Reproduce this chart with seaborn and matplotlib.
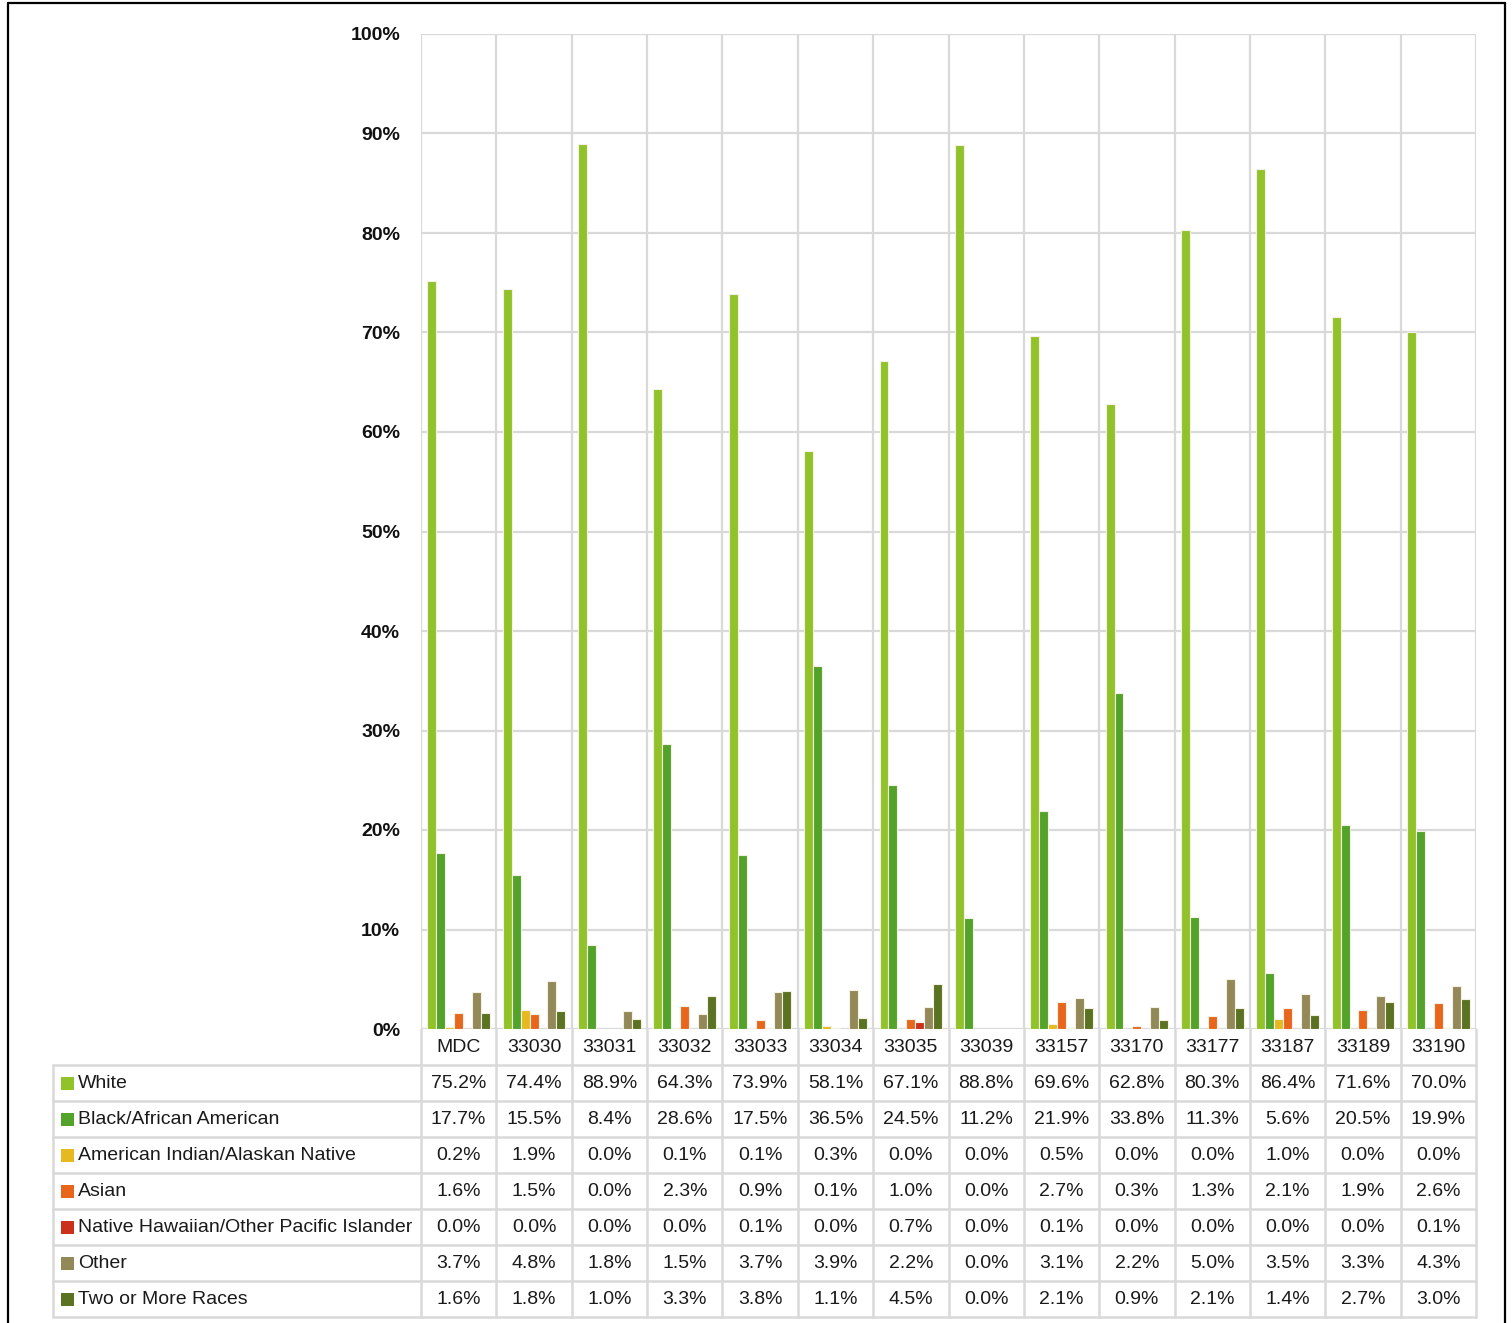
import numpy as np
import pandas as pd
import matplotlib
matplotlib.use("Agg")
import matplotlib.pyplot as plt
from matplotlib import font_manager
from matplotlib.patches import Rectangle
from matplotlib.lines import Line2D
import seaborn as sns

categories = ["MDC", "33030", "33031", "33032", "33033", "33034", "33035",
              "33039", "33157", "33170", "33177", "33187", "33189", "33190"]
races = ["White", "Black/African American", "American Indian/Alaskan Native",
         "Asian", "Native Hawaiian/Other Pacific Islander", "Other", "Two or More Races"]
white = [75.2, 74.4, 88.9, 64.3, 73.9, 58.1, 67.1, 88.8, 69.6, 62.8, 80.3, 86.4, 71.6, 70.0]
black = [17.7, 15.5, 8.4, 28.6, 17.5, 36.5, 24.5, 11.2, 21.9, 33.8, 11.3, 5.6, 20.5, 19.9]
am_indian = [0.2, 1.9, 0.0, 0.1, 0.1, 0.3, 0.0, 0.0, 0.5, 0.0, 0.0, 1.0, 0.0, 0.0]
asian = [1.6, 1.5, 0.0, 2.3, 0.9, 0.1, 1.0, 0.0, 2.7, 0.3, 1.3, 2.1, 1.9, 2.6]
nhpi = [0.0, 0.0, 0.0, 0.0, 0.1, 0.0, 0.7, 0.0, 0.1, 0.0, 0.0, 0.0, 0.0, 0.1]
other = [3.7, 4.8, 1.8, 1.5, 3.7, 3.9, 2.2, 0.0, 3.1, 2.2, 5.0, 3.5, 3.3, 4.3]
two_more = [1.6, 1.8, 1.0, 3.3, 3.8, 1.1, 4.5, 0.0, 2.1, 0.9, 2.1, 1.4, 2.7, 3.0]
series = [white, black, am_indian, asian, nhpi, other, two_more]
colors = ["#92C22A", "#53A22A", "#E7B921", "#E8661C", "#C9311D", "#938858", "#5A7221"]
yticks = [0, 10, 20, 30, 40, 50, 60, 70, 80, 90, 100]

sns.set_style("white")

def pick_font(names):
    for n in names:
        try:
            font_manager.findfont(font_manager.FontProperties(family=n), fallback_to_default=False)
            return n
        except Exception:
            pass
    return "DejaVu Sans"

FONT = pick_font(["Liberation Sans Narrow", "Liberation Sans", "DejaVu Sans"])
plt.rcParams["font.family"] = [FONT, "DejaVu Sans"]

df = pd.DataFrame({
    "zip": np.repeat(categories, len(races)).tolist(),
    "race": races * len(categories),
    "pct": [series[r][c] for c in range(len(categories)) for r in range(len(races))],
})

W, H = 1512, 1323
fig = plt.figure(figsize=(W / 100, H / 100), dpi=100)

x0, x1 = 421, 1476
ytop, ybot = 34, 1029
ax = fig.add_axes([x0 / W, 1 - ybot / H, (x1 - x0) / W, (ybot - ytop) / H])
sns.barplot(data=df, x="zip", y="pct", hue="race", hue_order=races, order=categories,
            palette=colors, width=0.83, saturation=1, ax=ax, legend=False,
            edgecolor="#F4F1E4", linewidth=0.8)
ax.set_xlim(-0.5, len(categories) - 0.5)
ax.set_ylim(0, 100)
ax.set_yticks(yticks)
ax.set_yticklabels([f"{t}%" for t in yticks], fontsize=14, fontweight="bold", color="#111111")
ax.tick_params(axis="y", length=0, pad=15)
ax.set_xticks([])
ax.set_xlabel("")
ax.set_ylabel("")
grid_c = "#D9D9D9"
for t in yticks:
    ax.axhline(t, color=grid_c, lw=1.6, zorder=0)
for i in range(len(categories) + 1):
    ax.axvline(i - 0.5, color=grid_c, lw=1.6, zorder=0)
for s in ax.spines.values():
    s.set_visible(False)

# data table
tb_bot = 1317
tax = fig.add_axes([53 / W, 1 - tb_bot / H, (x1 - 53) / W, (tb_bot - ybot) / H])
unit = (x1 - x0) / len(categories)
xleft = -0.5 - (x0 - 53) / unit
tax.set_xlim(xleft, len(categories) - 0.5)
nrows = len(races) + 1
tax.set_ylim(nrows, 0)
tax.axis("off")
for i in range(len(categories) + 1):
    tax.plot([i - 0.5, i - 0.5], [0, nrows], color=grid_c, lw=1.8, clip_on=False)
tax.plot([xleft, xleft], [1, nrows], color=grid_c, lw=1.8, clip_on=False)
for r in range(1, nrows + 1):
    tax.plot([xleft, len(categories) - 0.5], [r, r], color=grid_c, lw=1.8, clip_on=False)

fs = 14
for i, c in enumerate(categories):
    tax.text(i, 0.5, c, ha="center", va="center", fontsize=fs, color="#1a1a1a")
sq_w = 13 / unit
sq_h = 13 / ((tb_bot - ybot) / nrows)
for r, (name, vals, col) in enumerate(zip(races, series, colors)):
    yc = r + 1.5
    tax.add_patch(Rectangle((xleft + 8 / unit, yc - sq_h / 2), sq_w, sq_h,
                            facecolor=col, edgecolor="none"))
    tax.text(xleft + 25 / unit, yc, name, ha="left", va="center", fontsize=fs, color="#1a1a1a")
    for i, v in enumerate(vals):
        tax.text(i, yc, f"{v:.1f}%", ha="center", va="center", fontsize=fs, color="#1a1a1a")

# outer frame
for xs, ys in [([8 / W, 8 / W], [0, 1 - 3 / H]),
               ([1505 / W, 1505 / W], [0, 1 - 3 / H]),
               ([8 / W, 1505 / W], [1 - 3 / H, 1 - 3 / H])]:
    fig.add_artist(Line2D(xs, ys, color="black", lw=1.6, transform=fig.transFigure))

fig.savefig("out.png", dpi=100, facecolor="white")
